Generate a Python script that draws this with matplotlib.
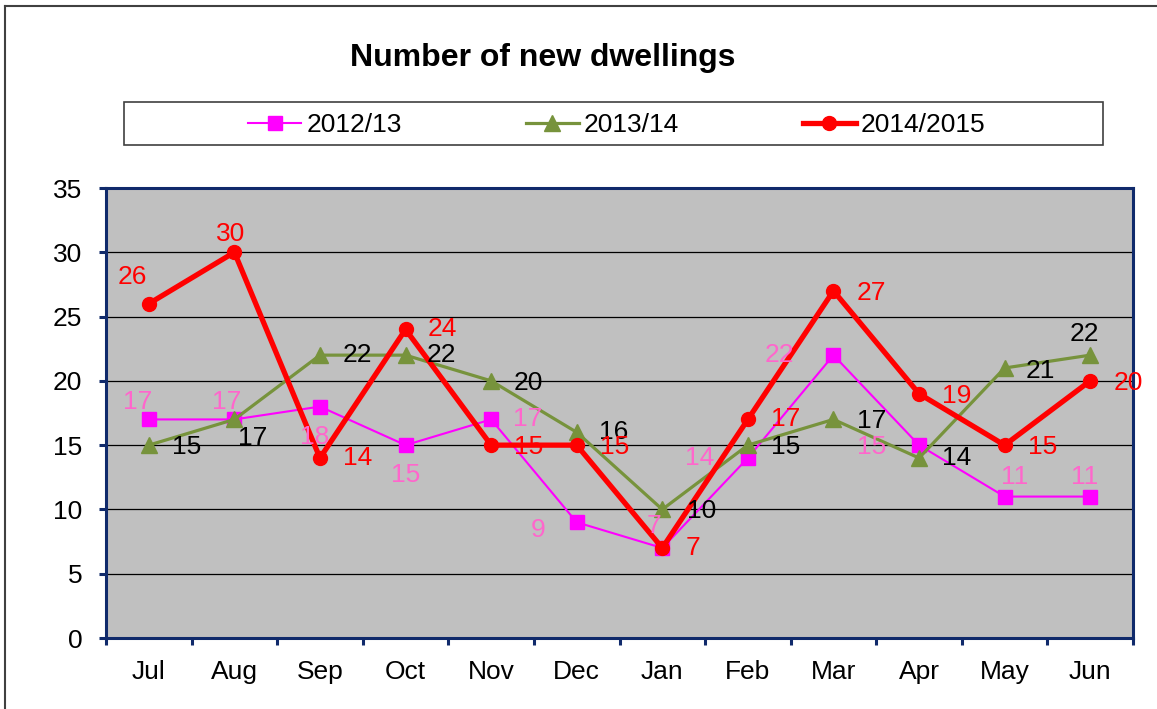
import matplotlib.pyplot as plt
from matplotlib.patches import Rectangle
from matplotlib.lines import Line2D

plt.rcParams['font.family'] = ['Liberation Sans', 'DejaVu Sans']

# Dados
months = ['Jul', 'Aug', 'Sep', 'Oct', 'Nov', 'Dec', 'Jan', 'Feb', 'Mar', 'Apr', 'May', 'Jun']
s2012 = [17, 17, 18, 15, 17, 9, 7, 14, 22, 15, 11, 11]
s2013 = [15, 17, 22, 22, 20, 16, 10, 15, 17, 14, 21, 22]
s2014 = [26, 30, 14, 24, 15, 15, 7, 17, 27, 19, 15, 20]
series_names = ['2012/13', '2013/14', '2014/2015']

# Deslocamento dos rótulos (pixels)
off2012 = [(-11, 17), (-8, 17), (-5, -30), (0, -30), (37, 0), (-39, -8),
           (-8, 22), (-48, 0), (-54, 0), (-47, -2), (10, 20), (-6, 20)]
off2013 = [(38, -2), (18, -19), (37, 0), (36, 0), (37, -2), (37, 0),
           (39, -2), (38, -2), (38, -2), (38, 0), (36, -3), (-6, 21)]
off2014 = [(-16, 27), (-4, 18), (38, 0), (37, 0), (38, -2), (38, -2),
           (31, 0), (38, 0), (38, -2), (38, -2), (38, -2), (38, -2)]

fig = plt.figure(figsize=(11.57, 7.09), dpi=100)
ax = fig.add_axes([106 / 1157, 1 - 638 / 709, 1027 / 1157, 450 / 709])
ax.set_facecolor('#C0C0C0')

x = list(range(len(months)))
l1, = ax.plot(x, s2012, color='#FF00FF', lw=1.5, marker='s', ms=10.5, zorder=3)
l2, = ax.plot(x, s2013, color='#77933C', lw=2.3, marker='^', ms=12, zorder=4)
l3, = ax.plot(x, s2014, color='#FF0000', lw=3.8, marker='o', ms=10, zorder=5)

for vals, offs, col in [(s2012, off2012, '#FF66CC'), (s2013, off2013, 'black'),
                        (s2014, off2014, '#FF0000')]:
    for i, v in enumerate(vals):
        ax.annotate(str(v), (i, v), xytext=offs[i], textcoords='offset pixels',
                    ha='center', va='center', fontsize=19, color=col, zorder=6)

ax.set_ylim(0, 35)
ax.set_yticks(range(0, 36, 5))
ax.set_xlim(-0.5, 11.5)
ax.set_xticks([i - 0.5 for i in range(13)])
ax.set_xticklabels([])
ax.set_xticks(x, minor=True)
ax.set_xticklabels(months, minor=True)
ax.tick_params(axis='x', which='minor', length=0, pad=16, labelsize=19)
ax.tick_params(axis='x', which='major', length=5, width=2.2, color='#102A6B', direction='out')
ax.tick_params(axis='y', length=5, width=2.2, color='#102A6B', pad=12, labelsize=19)
ax.yaxis.grid(True, color='black', lw=0.9)
ax.set_axisbelow(True)
for sp in ax.spines.values():
    sp.set_color('#102A6B')
    sp.set_linewidth(2.2)

fig.text(543 / 1157, 1 - 58 / 709, 'Number of new dwellings', ha='center', va='center',
         fontsize=23, fontweight='bold')

# Caixa da legenda
fig.add_artist(Rectangle((124 / 1157, 1 - 145 / 709), 979 / 1157, 43 / 709,
                         transform=fig.transFigure, fill=False, ec='#404040', lw=1.2))
fig.legend([l1, l2, l3], series_names, loc='center', bbox_to_anchor=(617 / 1157, 1 - 125 / 709),
           ncol=3, frameon=False, fontsize=19, handlelength=2.0, handletextpad=0.2,
           columnspacing=4.7)

# Borda externa
fig.add_artist(Line2D([5 / 1157, 5 / 1157], [0, 1 - 6 / 709], transform=fig.transFigure,
                      color='#404040', lw=1.5))
fig.add_artist(Line2D([5 / 1157, 1], [1 - 6 / 709, 1 - 6 / 709], transform=fig.transFigure,
                      color='#404040', lw=1.5))

fig.savefig('out.png', dpi=100)
